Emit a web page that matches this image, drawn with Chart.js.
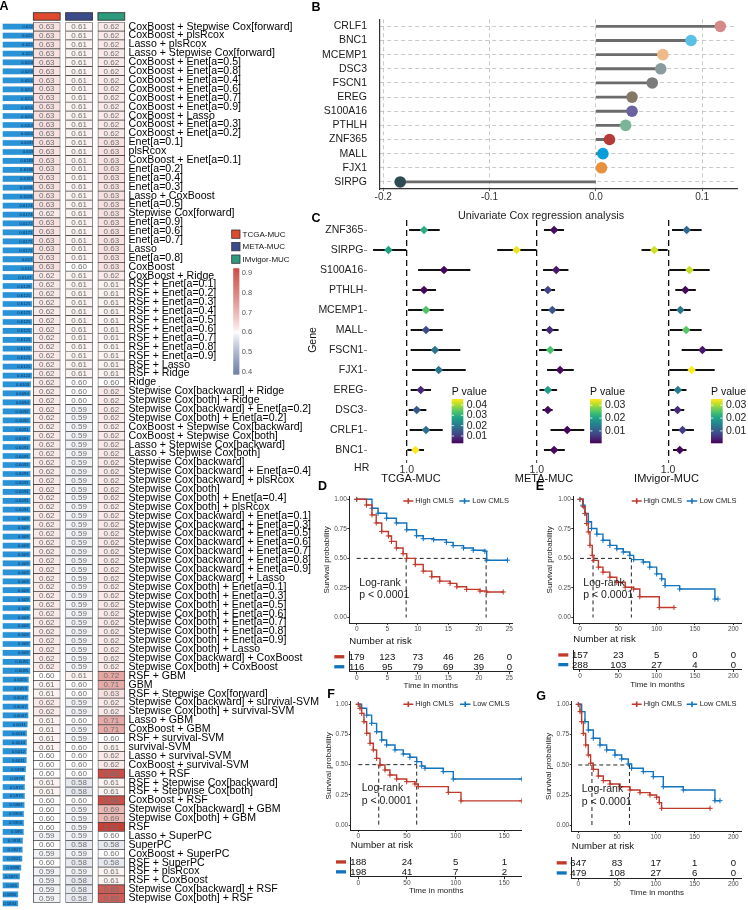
<!DOCTYPE html>
<html>
<head>
<meta charset="utf-8">
<title>Figure</title>
<script src="https://cdn.jsdelivr.net/npm/chart.js@4.4.1/dist/chart.umd.min.js"></script>
<style>
  html, body { margin:0; padding:0; background:#ffffff; }
  body { width:748px; height:910px; position:relative; overflow:hidden; }
  canvas { position:absolute; }
</style>
</head>
<body>
<script>
// ======================= DATA =======================
// ---- Panel A : models (rows), C-index per cohort, mean C-index ----
const models = [
 "CoxBoost + Stepwise Cox[forward]", "CoxBoost + plsRcox", "Lasso + plsRcox", "Lasso + Stepwise Cox[forward]",
 "CoxBoost + Enet[a=0.5]", "CoxBoost + Enet[a=0.8]", "CoxBoost + Enet[a=0.4]", "CoxBoost + Enet[a=0.6]",
 "CoxBoost + Enet[a=0.7]", "CoxBoost + Enet[a=0.9]", "CoxBoost + Lasso", "CoxBoost + Enet[a=0.3]",
 "CoxBoost + Enet[a=0.2]", "Enet[a=0.1]", "plsRcox", "CoxBoost + Enet[a=0.1]",
 "Enet[a=0.2]", "Enet[a=0.4]", "Enet[a=0.3]", "Lasso + CoxBoost",
 "Enet[a=0.5]", "Stepwise Cox[forward]", "Enet[a=0.9]", "Enet[a=0.6]",
 "Enet[a=0.7]", "Lasso", "Enet[a=0.8]", "CoxBoost",
 "CoxBoost + Ridge", "RSF + Enet[a=0.1]", "RSF + Enet[a=0.2]", "RSF + Enet[a=0.3]",
 "RSF + Enet[a=0.4]", "RSF + Enet[a=0.5]", "RSF + Enet[a=0.6]", "RSF + Enet[a=0.7]",
 "RSF + Enet[a=0.8]", "RSF + Enet[a=0.9]", "RSF + Lasso", "RSF + Ridge",
 "Ridge", "Stepwise Cox[backward] + Ridge", "Stepwise Cox[both] + Ridge", "Stepwise Cox[backward] + Enet[a=0.2]",
 "Stepwise Cox[both] + Enet[a=0.2]", "CoxBoost + Stepwise Cox[backward]", "CoxBoost + Stepwise Cox[both]", "Lasso + Stepwise Cox[backward]",
 "Lasso + Stepwise Cox[both]", "Stepwise Cox[backward]", "Stepwise Cox[backward] + Enet[a=0.4]", "Stepwise Cox[backward] + plsRcox",
 "Stepwise Cox[both]", "Stepwise Cox[both] + Enet[a=0.4]", "Stepwise Cox[both] + plsRcox", "Stepwise Cox[backward] + Enet[a=0.1]",
 "Stepwise Cox[backward] + Enet[a=0.3]", "Stepwise Cox[backward] + Enet[a=0.5]", "Stepwise Cox[backward] + Enet[a=0.6]", "Stepwise Cox[backward] + Enet[a=0.7]",
 "Stepwise Cox[backward] + Enet[a=0.8]", "Stepwise Cox[backward] + Enet[a=0.9]", "Stepwise Cox[backward] + Lasso", "Stepwise Cox[both] + Enet[a=0.1]",
 "Stepwise Cox[both] + Enet[a=0.3]", "Stepwise Cox[both] + Enet[a=0.5]", "Stepwise Cox[both] + Enet[a=0.6]", "Stepwise Cox[both] + Enet[a=0.7]",
 "Stepwise Cox[both] + Enet[a=0.8]", "Stepwise Cox[both] + Enet[a=0.9]", "Stepwise Cox[both] + Lasso", "Stepwise Cox[backward] + CoxBoost",
 "Stepwise Cox[both] + CoxBoost", "RSF + GBM", "GBM", "RSF + Stepwise Cox[forward]",
 "Stepwise Cox[backward] + survival-SVM", "Stepwise Cox[both] + survival-SVM", "Lasso + GBM", "CoxBoost + GBM",
 "RSF + survival-SVM", "survival-SVM", "Lasso + survival-SVM", "CoxBoost + survival-SVM",
 "Lasso + RSF", "RSF + Stepwise Cox[backward]", "RSF + Stepwise Cox[both]", "CoxBoost + RSF",
 "Stepwise Cox[backward] + GBM", "Stepwise Cox[both] + GBM", "RSF", "Lasso + SuperPC",
 "SuperPC", "CoxBoost + SuperPC", "RSF + SuperPC", "RSF + plsRcox",
 "RSF + CoxBoost", "Stepwise Cox[backward] + RSF", "Stepwise Cox[both] + RSF"
];
const cohorts = ["TCGA-MUC", "META-MUC", "IMvigor-MUC"];
const cindexTCGA = [
 0.63,0.63,0.63,0.63,0.63,0.63,0.63,0.63,0.63,0.63,
 0.63,0.63,0.63,0.63,0.63,0.63,0.63,0.63,0.63,0.63,
 0.63,0.62,0.63,0.63,0.63,0.63,0.63,0.63,0.62,0.62,
 0.62,0.62,0.62,0.62,0.62,0.62,0.62,0.62,0.62,0.62,
 0.62,0.62,0.62,0.62,0.62,0.62,0.62,0.62,0.62,0.62,
 0.62,0.62,0.62,0.62,0.62,0.62,0.62,0.62,0.62,0.62,
 0.62,0.62,0.62,0.62,0.62,0.62,0.62,0.62,0.62,0.62,
 0.62,0.62,0.62,0.60,0.61,0.61,0.62,0.62,0.61,0.61,
 0.61,0.61,0.60,0.60,0.60,0.61,0.61,0.60,0.60,0.60,
 0.60,0.59,0.60,0.59,0.60,0.59,0.59,0.59,0.59
];
const cindexMETA = [
 0.61,0.61,0.61,0.61,0.61,0.61,0.61,0.61,0.61,0.61,
 0.61,0.61,0.61,0.61,0.61,0.61,0.61,0.61,0.61,0.61,
 0.61,0.61,0.61,0.61,0.61,0.61,0.61,0.60,0.61,0.61,
 0.61,0.61,0.61,0.61,0.61,0.61,0.61,0.61,0.61,0.61,
 0.60,0.60,0.60,0.59,0.59,0.59,0.59,0.59,0.59,0.59,
 0.59,0.59,0.59,0.59,0.59,0.59,0.59,0.59,0.59,0.59,
 0.59,0.59,0.59,0.59,0.59,0.59,0.59,0.59,0.59,0.59,
 0.59,0.59,0.59,0.61,0.60,0.60,0.59,0.59,0.60,0.59,
 0.59,0.60,0.60,0.60,0.60,0.58,0.58,0.60,0.59,0.59,
 0.59,0.59,0.58,0.59,0.58,0.59,0.58,0.58,0.58
];
const cindexIMV = [
 0.62,0.62,0.62,0.62,0.62,0.62,0.62,0.62,0.62,0.62,
 0.62,0.62,0.62,0.63,0.63,0.63,0.63,0.63,0.63,0.63,
 0.63,0.63,0.63,0.63,0.63,0.63,0.63,0.63,0.62,0.61,
 0.61,0.61,0.61,0.61,0.61,0.61,0.61,0.61,0.61,0.61,
 0.60,0.62,0.62,0.62,0.62,0.62,0.62,0.62,0.62,0.62,
 0.62,0.62,0.62,0.62,0.62,0.62,0.62,0.62,0.62,0.62,
 0.62,0.62,0.62,0.62,0.62,0.62,0.62,0.62,0.62,0.62,
 0.62,0.62,0.62,0.72,0.71,0.63,0.62,0.62,0.71,0.71,
 0.60,0.61,0.62,0.62,0.88,0.61,0.61,0.88,0.69,0.69,
 0.91,0.60,0.58,0.60,0.58,0.61,0.61,0.85,0.85
];
const meanCindex = [
 0.6229,0.6225,0.6222,0.6222,0.6208,0.6208,0.6207,0.6207,0.6207,0.6207,
 0.6207,0.6205,0.6202,0.6199,0.619,0.6189,0.6186,0.6183,0.6181,0.6181,
 0.6174,0.6174,0.6172,0.6171,0.6171,0.6171,0.617,0.616,0.6147,0.6129,
 0.6125,0.6125,0.6125,0.6125,0.6125,0.6125,0.6125,0.6125,0.6125,0.6124,
 0.6103,0.6094,0.6094,0.6092,0.6092,0.6091,0.6091,0.6091,0.6091,0.6091,
 0.6091,0.6091,0.6091,0.6091,0.6091,0.609,0.609,0.609,0.609,0.609,
 0.609,0.609,0.609,0.609,0.609,0.609,0.609,0.609,0.609,0.609,
 0.609,0.6085,0.6085,0.6055,0.6053,0.6047,0.6047,0.6047,0.6031,0.6016,
 0.6014,0.6012,0.6011,0.5998,0.5979,0.5972,0.5972,0.5967,0.5955,0.5955,
 0.595,0.5931,0.5927,0.5921,0.5898,0.5871,0.585,0.5835,0.5834
];
const heatTicks = [0.9, 0.8, 0.7, 0.6, 0.5, 0.4];

// ---- Panel B : univariate Cox coefficients ----
const genesB = ["CRLF1","BNC1","MCEMP1","DSC3","FSCN1","EREG","S100A16","PTHLH","ZNF365","MALL","FJX1","SIRPG"];
const coefB  = [0.117, 0.0895, 0.063, 0.061, 0.053, 0.034, 0.034, 0.028, 0.0128, 0.0066, 0.0053, -0.184];
const ticksB = [-0.2, -0.1, 0.0, 0.1];

// ---- Panel C : forest plots ----
const genesC = ["ZNF365","SIRPG","S100A16","PTHLH","MCEMP1","MALL","FSCN1","FJX1","EREG","DSC3","CRLF1","BNC1"];
const hrTCGA = [1.173, 0.817, 1.373, 1.173, 1.193, 1.193, 1.283, 1.320, 1.140, 1.100, 1.193, 1.087];
const loTCGA = [1.027, 0.667, 1.117, 1.060, 1.017, 1.043, 1.043, 1.057, 1.043, 1.023, 1.033, 1.010];
const hiTCGA = [1.327, 0.993, 1.633, 1.290, 1.367, 1.357, 1.533, 1.587, 1.240, 1.193, 1.357, 1.170];
const pTCGA  = [0.030, 0.028, 0.004, 0.004, 0.034, 0.013, 0.020, 0.020, 0.008, 0.015, 0.019, 0.0458];
const hrMETA = [1.193, 0.773, 1.217, 1.123, 1.173, 1.143, 1.150, 1.260, 1.123, 1.123, 1.340, 1.193];
const loMETA = [1.083, 0.560, 1.073, 1.050, 1.053, 1.060, 1.027, 1.117, 1.033, 1.067, 1.157, 1.083];
const hiMETA = [1.300, 0.993, 1.350, 1.200, 1.303, 1.240, 1.280, 1.410, 1.223, 1.173, 1.527, 1.310];
const pMETA  = [0.002, 0.034, 0.003, 0.0076, 0.010, 0.005, 0.025, 0.0015, 0.0196, 0.0015, 0.0012, 0.0015];
const hrIMV  = [1.223, 0.833, 1.257, 1.207, 1.147, 1.217, 1.413, 1.283, 1.117, 1.113, 1.173, 1.140];
const loIMV  = [1.050, 0.683, 1.017, 1.090, 1.023, 1.023, 1.167, 1.017, 1.017, 1.033, 1.050, 1.063];
const hiIMV  = [1.400, 0.990, 1.497, 1.330, 1.267, 1.400, 1.650, 1.557, 1.217, 1.190, 1.307, 1.217];
const pIMV   = [0.0127, 0.0325, 0.032, 0.0015, 0.0145, 0.026, 0.003, 0.0349, 0.0151, 0.0049, 0.007, 0.0015];
const pTicksTCGA = [0.01, 0.02, 0.03, 0.04];
const pTicksOther = [0.01, 0.02, 0.03];

// ---- Panels D-G : Kaplan-Meier (time in months, survival) ----
const dHighT = [0, 1.6, 2.5, 3.2, 4.1, 5.2, 5.7, 6.5, 7.6, 8.2, 9.6, 10.9, 12.3, 13.6, 15.3, 16.4, 18.0, 20.2, 21.3, 24.0];
const dHighS = [1, 0.952, 0.868, 0.80, 0.728, 0.69, 0.644, 0.588, 0.54, 0.50, 0.448, 0.392, 0.345, 0.308, 0.289, 0.26, 0.238, 0.224, 0.216, 0.216];
const dLowT  = [0, 2.5, 3.5, 4.9, 6.5, 8.2, 9.8, 10.9, 12.6, 14.7, 15.8, 17.5, 19.1, 21.0, 21.3, 24.7];
const dLowS  = [1, 0.924, 0.882, 0.84, 0.80, 0.742, 0.692, 0.667, 0.658, 0.636, 0.608, 0.588, 0.569, 0.56, 0.485, 0.485];
const dMedian = [8.1, 21.2];
const dTicks = [0, 5, 10, 15, 20, 25];
const dRiskHigh = [179, 123, 73, 46, 26, 0];
const dRiskLow  = [116, 95, 79, 69, 39, 0];

const eHighT = [0, 4.3, 6.5, 8.7, 10.9, 13, 16, 18, 24, 30, 39, 48, 59, 70, 78, 103.5, 122.6];
const eHighS = [1, 0.9375, 0.88, 0.795, 0.724, 0.61, 0.526, 0.483, 0.426, 0.384, 0.341, 0.298, 0.256, 0.241, 0.176, 0.085, 0.085];
const eLowT  = [0, 3.5, 6.5, 10.9, 15, 22, 30, 39, 48, 56.5, 65, 70, 82.6, 91, 100, 106.5, 111, 130, 176, 180];
const eLowS  = [1, 0.95, 0.88, 0.81, 0.753, 0.705, 0.653, 0.61, 0.582, 0.554, 0.526, 0.49, 0.469, 0.426, 0.369, 0.327, 0.27, 0.241, 0.156, 0.156];
const eMedian = [17, 67];
const eTicks = [0, 50, 100, 150, 200];
const eRiskHigh = [157, 23, 5, 0, 0];
const eRiskLow  = [288, 103, 27, 4, 0];

const fHighT = [0, 1.7, 3.4, 5.8, 8.6, 12, 15.4, 18.8, 22.3, 27.4, 32.5, 39.4, 49.7, 58.2, 61.6, 92.5, 105.5, 167.8];
const fHighS = [1, 0.967, 0.925, 0.856, 0.76, 0.677, 0.622, 0.552, 0.497, 0.456, 0.414, 0.381, 0.359, 0.34, 0.318, 0.27, 0.2, 0.2];
const fLowT  = [0, 3.4, 8.6, 13.7, 18.8, 24, 29.1, 37.7, 46.2, 53, 60, 65, 68.5, 87.3, 97.6, 167.8];
const fLowS  = [1, 0.967, 0.91, 0.842, 0.773, 0.704, 0.663, 0.622, 0.588, 0.561, 0.525, 0.489, 0.47, 0.442, 0.381, 0.381];
const fMedian = [21, 60];
const fTicks = [0, 50, 100, 150];
const fRiskHigh = [188, 24, 5, 1];
const fRiskLow  = [198, 41, 7, 2];

const gHighT = [0, 2.2, 4.3, 6.5, 9.5, 12.9, 15.9, 19.4, 25.8, 32.3, 40.9, 53.8, 66.7, 79.6, 92.5, 101, 104.5, 107.5, 170];
const gHighS = [1, 0.94, 0.857, 0.76, 0.665, 0.582, 0.514, 0.464, 0.409, 0.371, 0.343, 0.321, 0.294, 0.272, 0.253, 0.234, 0.19, 0.143, 0.143];
const gLowT  = [0, 4.3, 8.6, 12.9, 19.4, 28, 36.6, 47.3, 55.9, 64.5, 68.8, 83.9, 96.8, 109.7, 135.5, 176.3, 182.8];
const gLowS  = [1, 0.94, 0.857, 0.788, 0.72, 0.665, 0.624, 0.582, 0.55, 0.508, 0.473, 0.445, 0.404, 0.321, 0.294, 0.206, 0.206];
const gMedian = [17.6, 66];
const gTicks = [0, 50, 100, 150, 200];
const gRiskHigh = [647, 83, 17, 1, 0];
const gRiskLow  = [479, 108, 27, 6, 0];

const survTicks = [0, 0.25, 0.5, 0.75, 1];
const groups = ["High CMLS", "Low CMLS"];

// ======================= STYLE =======================
const FONT = '"Liberation Sans", Arial, Helvetica, sans-serif';
const fnt = (size, weight) => (weight ? weight + ' ' : '') + size + 'px ' + FONT;
const cohortColors = ["#DF4A2E", "#3C4C8A", "#2E9B7F"];
const colorsB = ["#D48A8A","#5BC0E8","#F0B98A","#8A9B9F","#7C7C7C","#847866","#6B63A0","#79B596","#B53A3A","#009FDA","#E8913C","#2E4A52"];
const RED = "#C0392B", BLUE = "#1273BE";

Chart.defaults.font.family = FONT;
Chart.defaults.color = '#333';
Chart.defaults.animation = false;
Chart.defaults.responsive = false;
Chart.defaults.maintainAspectRatio = false;
Chart.defaults.plugins.legend.display = false;
Chart.defaults.plugins.tooltip.enabled = false;
Chart.defaults.events = [];

function hexToRgb(h){ h=h.replace('#',''); return [parseInt(h.substr(0,2),16),parseInt(h.substr(2,2),16),parseInt(h.substr(4,2),16)]; }
function mix(a,b,t){ return 'rgb(' + Math.round(a[0]+(b[0]-a[0])*t) + ',' + Math.round(a[1]+(b[1]-a[1])*t) + ',' + Math.round(a[2]+(b[2]-a[2])*t) + ')'; }
const HOT=[197,58,50], COLD=[100,116,160], WHITE=[255,255,255];
function heatColor(v){
  if (v >= 0.6) { const t = Math.pow(Math.min(1,(v-0.6)/0.32), 0.8); return mix(WHITE, HOT, t); }
  const t = Math.pow(Math.min(1,(0.6-v)/0.2), 0.8); return mix(WHITE, COLD, t);
}
const VIR = ['#440154','#482475','#414487','#355F8D','#2A788E','#21918C','#22A884','#44BF70','#7AD151','#BDDF26','#FDE725'].map(hexToRgb);
function viridis(t){ t=Math.max(0,Math.min(1,t)); const f=t*10; const i=Math.min(9,Math.floor(f)); return mix(VIR[i],VIR[i+1],f-i); }

// ======================= HELPERS =======================
function makeCanvas(left, top, w, h){
  const c = document.createElement('canvas');
  c.width = w; c.height = h;
  c.style.left = left + 'px'; c.style.top = top + 'px';
  c.style.width = w + 'px'; c.style.height = h + 'px';
  document.body.appendChild(c);
  c._off = {left, top};
  c._annot = [];
  return c;
}
const fixW = w => s => { s.width = w; };
const fixH = h => s => { s.height = h; };
const setTicks = vals => s => { s.ticks = vals.map(v => ({value: v})); };

const annotPlugin = {
  id: 'annot',
  afterDraw(chart) {
    const c = chart.canvas, items = c._annot || [], off = c._off, ctx = chart.ctx;
    items.forEach(it => {
      ctx.save();
      const x = it.x - off.left, y = it.y - off.top;
      if (it.kind === 'rect') {
        ctx.fillStyle = it.fill; ctx.fillRect(x, y, it.w, it.h);
        if (it.stroke) { ctx.strokeStyle = it.stroke; ctx.lineWidth = 0.8; ctx.strokeRect(x, y, it.w, it.h); }
      } else if (it.kind === 'key') {
        ctx.strokeStyle = it.color; ctx.lineWidth = 1.6;
        ctx.beginPath(); ctx.moveTo(x, y); ctx.lineTo(x + it.w, y);
        ctx.moveTo(x + it.w/2, y - 2.8); ctx.lineTo(x + it.w/2, y + 2.8); ctx.stroke();
      } else {
        ctx.font = it.font; ctx.fillStyle = it.color || '#000';
        ctx.textAlign = it.align || 'left'; ctx.textBaseline = 'middle';
        ctx.fillText(it.text, x, y);
      }
      ctx.restore();
    });
  }
};
const valueTextPlugin = {
  id: 'valtext',
  afterDatasetsDraw(chart) {
    const ctx = chart.ctx;
    chart.data.datasets.forEach((ds, i) => {
      if (!ds.txt) return;
      const meta = chart.getDatasetMeta(i);
      meta.data.forEach((el, k) => {
        const s = ds.txt[k];
        if (s === undefined || s === null) return;
        ctx.save();
        ctx.font = ds.txtFont; ctx.fillStyle = ds.txtColor; ctx.textBaseline = 'middle';
        let x = el.x;
        if (ds.txtMode === 'cell') { x = (el.x + el.base) / 2; ctx.textAlign = 'center'; }
        else if (ds.txtMode === 'end') { x = el.x - 2; ctx.textAlign = 'right'; }
        else { ctx.textAlign = 'center'; }
        ctx.fillText(String(s), x, el.y + 0.3);
        ctx.restore();
      });
    });
  }
};
const pLegendPlugin = {
  id: 'pleg',
  afterDraw(chart) {
    const o = chart.canvas._pleg; if (!o) return;
    const off = chart.canvas._off, ctx = chart.ctx;
    const x = o.x - off.left, top = o.top - off.top, bot = o.bottom - off.top;
    ctx.save();
    for (let y = top; y < bot; y += 1) {
      const p = o.pmax - (y - top) / (bot - top) * (o.pmax - o.pmin);
      ctx.fillStyle = viridis((p - o.pmin) / (o.pmax - o.pmin));
      ctx.fillRect(x, y, o.w, 1.3);
    }
    ctx.font = fnt(10.5); ctx.textAlign = 'left'; ctx.textBaseline = 'middle';
    o.ticks.forEach(p => {
      const y = top + (o.pmax - p) / (o.pmax - o.pmin) * (bot - top);
      ctx.strokeStyle = '#fff'; ctx.lineWidth = 0.8;
      ctx.beginPath(); ctx.moveTo(x, y); ctx.lineTo(x + 2.4, y); ctx.moveTo(x + o.w - 2.4, y); ctx.lineTo(x + o.w, y); ctx.stroke();
      ctx.fillStyle = '#222';
      ctx.fillText(p.toFixed(2), x + o.w + 3.4, y);
    });
    ctx.fillStyle = '#111';
    ctx.fillText('P value', x, top - 7);
    ctx.restore();
  }
};
Chart.register(annotPlugin, valueTextPlugin, pLegendPlugin);

// ======================= PANEL A : mean C-index bars =======================
const cBar = makeCanvas(0, 0, 40, 910);
cBar._annot = [{text:'A', x:4, y:6.5, font:fnt(12.5,'bold'), color:'#000', align:'center'}];
new Chart(cBar, {
  type: 'bar',
  data: { labels: models, datasets: [{
    data: meanCindex, backgroundColor: '#2A93D8', borderColor: '#1C6FAE', borderWidth: 0.4,
    barPercentage: 0.7, categoryPercentage: 1,
    txt: meanCindex, txtFont: fnt(4.3), txtColor: '#0B2B55', txtMode: 'end'
  }]},
  options: {
    indexAxis: 'y',
    layout: { padding: { left: 2.7, right: 2.7, top: 22.2, bottom: 2.2 } },
    scales: {
      x: { display: false, type: 'linear', min: 0.551, max: 0.6229 },
      y: { display: false }
    }
  }
});

// ======================= PANEL A : heatmap =======================
const cHeat = makeCanvas(30, 0, 330, 910);
const cellInset = 0.085;
const heatDecor = {
  id: 'heatDecor',
  afterDraw(chart) {
    const ctx = chart.ctx, xs = chart.scales.x, ox = chart.canvas._off.left;
    ctx.save();
    cohorts.forEach((c, j) => {
      const x1 = xs.getPixelForValue(j + cellInset), x2 = xs.getPixelForValue(j + 1 - cellInset);
      ctx.fillStyle = cohortColors[j]; ctx.fillRect(x1, 12.7, x2 - x1, 7.5);
      ctx.strokeStyle = '#333'; ctx.lineWidth = 0.9; ctx.strokeRect(x1, 12.7, x2 - x1, 7.5);
    });
    // legend
    ctx.font = fnt(8); ctx.textBaseline = 'middle'; ctx.textAlign = 'left';
    cohorts.forEach((c, j) => {
      const y = 230 + j * 12.5;
      ctx.fillStyle = cohortColors[j]; ctx.fillRect(231.7 - ox, y, 8.3, 8.3);
      ctx.strokeStyle = '#333'; ctx.lineWidth = 0.8; ctx.strokeRect(231.7 - ox, y, 8.3, 8.3);
      ctx.fillStyle = '#111'; ctx.fillText(c, 242.5 - ox, y + 4.3);
    });
    // colour bar
    const top = 268.3, bottom = 374, vTop = 0.925, vBot = 0.388;
    for (let y = top; y < bottom; y += 1) {
      const v = vTop - (y - top) / (bottom - top) * (vTop - vBot);
      ctx.fillStyle = heatColor(v); ctx.fillRect(233.3 - ox, y, 6, 1.3);
    }
    ctx.font = fnt(7.5); ctx.fillStyle = '#555';
    heatTicks.forEach(t => {
      const y = top + (vTop - t) / (vTop - vBot) * (bottom - top);
      ctx.fillText(t.toFixed(1), 241.7 - ox, y);
    });
    ctx.restore();
  }
};
new Chart(cHeat, {
  type: 'bar',
  data: {
    labels: models,
    datasets: [cindexTCGA, cindexMETA, cindexIMV].map((vals, j) => ({
      label: cohorts[j],
      data: vals.map(() => [j + cellInset, j + 1 - cellInset]),
      backgroundColor: vals.map(heatColor),
      borderColor: '#3A3A3A', borderWidth: 0.7, borderSkipped: false,
      grouped: false, barPercentage: 1, categoryPercentage: 1,
      txt: vals.map(v => v.toFixed(2)), txtFont: fnt(8), txtColor: '#707070', txtMode: 'cell'
    }))
  },
  options: {
    indexAxis: 'y',
    layout: { padding: { left: 0.6, right: 0, top: 22.2, bottom: 2.2 } },
    scales: {
      x: { display: false, type: 'linear', min: 0, max: 3 },
      y: { position: 'right', grid: { display: false, drawTicks: false }, border: { display: false },
           ticks: { autoSkip: false, font: { size: 10.6 }, color: '#000', padding: 1 },
           afterFit: fixW(232.5) }
    }
  },
  plugins: [heatDecor]
});

// ======================= PANEL B : lollipop =======================
const cB = makeCanvas(295, 0, 453, 225);
cB._annot = [
  {text:'B', x:316, y:7.5, font:fnt(12.5,'bold'), color:'#000', align:'center'},
  {text:'Univariate Cox regression analysis', x:541, y:216, font:fnt(10.8), color:'#222', align:'center'}
];
new Chart(cB, {
  type: 'bar',
  data: { labels: genesB, datasets: [
    { type: 'bar', data: coefB, backgroundColor: '#6B6B6B', barThickness: 2.2, order: 2 },
    { type: 'line', indexAxis: 'y', data: coefB, showLine: false, pointRadius: 5.8, pointHoverRadius: 5.8,
      pointBackgroundColor: colorsB, pointBorderColor: colorsB, pointBorderWidth: 0, order: 1 }
  ]},
  options: {
    indexAxis: 'y',
    layout: { padding: { left: 0, right: 11, top: 14.4, bottom: 0 } },
    scales: {
      x: { type: 'linear', min: -0.203, max: 0.1327, afterBuildTicks: setTicks(ticksB),
           ticks: { callback: v => v.toFixed(1), font: { size: 10 }, color: '#333', padding: 0 },
           grid: { color: '#BDBDBD', lineWidth: 0.8, tickLength: 2, tickColor: '#333' },
           border: { display: true, color: '#333', width: 1.2, dash: [4, 3] },
           afterFit: fixH(36) },
      y: { grid: { color: '#BDBDBD', lineWidth: 0.8, offset: false, drawTicks: false },
           border: { display: true, color: '#333', width: 1.2, dash: [4, 3] },
           ticks: { autoSkip: false, font: { size: 10.5 }, color: '#1A1A1A', padding: 13 },
           afterFit: fixW(85) }
    }
  }
});

// ======================= PANEL C : forest plots =======================
function forestChart(canvas, cfg) {
  const off = canvas._off, W = canvas.width, H = canvas.height;
  const a = cfg.area;
  const span = cfg.pmax - cfg.pmin;
  return new Chart(canvas, {
    type: 'bar',
    data: { labels: genesC, datasets: [
      { type: 'bar', data: cfg.lo.map((l, i) => [l, cfg.hi[i]]), backgroundColor: '#111', barThickness: 1.3, clip: false, order: 2 },
      { type: 'line', indexAxis: 'y', data: cfg.hr, showLine: false, pointStyle: 'rectRot', pointRadius: 4.3,
        pointBackgroundColor: cfg.p.map(v => viridis((v - cfg.pmin) / span)), pointBorderWidth: 0, clip: false, order: 1 }
    ]},
    options: {
      indexAxis: 'y',
      layout: { padding: { left: cfg.showY ? 0 : a.l - off.left, right: off.left + W - a.r, top: a.t - off.top, bottom: 0 } },
      scales: {
        x: { type: 'linear', min: cfg.min, max: cfg.max, afterBuildTicks: setTicks([1]),
             ticks: { callback: v => v.toFixed(1), font: { size: 10.5 }, color: '#333', padding: 0.5 },
             grid: { color: '#111', lineWidth: 1.3, tickLength: 3, tickColor: '#333', tickWidth: 1 },
             border: { display: false, dash: [6, 4] },
             title: { display: true, text: cfg.title, font: { size: 11 }, color: '#111', padding: { top: 0, bottom: 0 } },
             afterFit: fixH(off.top + H - a.b) },
        y: { display: cfg.showY, grid: { drawOnChartArea: false, offset: false, tickLength: 3, tickColor: '#888' },
             border: { display: false },
             ticks: { autoSkip: false, font: { size: 10.5 }, color: '#222', padding: 0.7 },
             title: { display: true, text: 'Gene', font: { size: 10.5 }, color: '#111', padding: { top: 7, bottom: 0 } },
             afterFit: fixW(a.l - off.left) }
      }
    }
  });
}
const cC1 = makeCanvas(300, 210, 190, 276);
cC1._annot = [
  {text:'C', x:316, y:218.5, font:fnt(12.5,'bold'), color:'#000', align:'center'},
  {text:'HR', x:361.7, y:468.3, font:fnt(10.5), color:'#222', align:'center'}
];
cC1._pleg = { x: 451.7, top: 399, bottom: 442.7, w: 11.6, pmin: 0.0035, pmax: 0.0458, ticks: pTicksTCGA };
forestChart(cC1, { area: {l:367, t:220, r:455, b:460}, min: 0.603, max: 1.483, hr: hrTCGA, lo: loTCGA, hi: hiTCGA, p: pTCGA,
  pmin: 0.0035, pmax: 0.0458, showY: true, title: 'TCGA-MUC' });

const cC2 = makeCanvas(470, 210, 160, 276);
cC2._pleg = { x: 590, top: 399, bottom: 442.7, w: 11.6, pmin: 0.0008, pmax: 0.0349, ticks: pTicksOther };
forestChart(cC2, { area: {l:482, t:220, r:594, b:460}, min: 0.52, max: 1.64, hr: hrMETA, lo: loMETA, hi: hiMETA, p: pMETA,
  pmin: 0.0008, pmax: 0.0349, showY: false, title: 'META-MUC' });

const cC3 = makeCanvas(600, 210, 148, 276);
cC3._pleg = { x: 711, top: 399, bottom: 442.7, w: 11.6, pmin: 0.0008, pmax: 0.0349, ticks: pTicksOther };
forestChart(cC3, { area: {l:615, t:220, r:703, b:460}, min: 0.54, max: 1.42, hr: hrIMV, lo: loIMV, hi: hiIMV, p: pIMV,
  pmin: 0.0008, pmax: 0.0349, showY: false, title: 'IMvigor-MUC' });

// ======================= PANELS D-G : KM curves + risk tables =======================
function stepDs(T, S, color, label) {
  return { label, data: T.map((t, i) => ({x: t, y: S[i]})), stepped: true, borderColor: color, borderWidth: 1.4,
    pointStyle: 'cross', pointRadius: 2.6, pointBorderColor: color, pointBorderWidth: 1, pointBackgroundColor: color, fill: false };
}
function dashDs(pts) {
  return { data: pts, borderColor: '#222', borderWidth: 1, borderDash: [4, 3], pointRadius: 0, fill: false };
}
function kmChart(canvas, cfg) {
  const off = canvas._off, W = canvas.width, H = canvas.height, a = cfg.area;
  const m = cfg.median;
  return new Chart(canvas, {
    type: 'line',
    data: { datasets: [
      stepDs(cfg.hiT, cfg.hiS, RED, groups[0]),
      stepDs(cfg.loT, cfg.loS, BLUE, groups[1]),
      dashDs([{x: 0, y: 0.5}, {x: m[1], y: 0.5}]),
      dashDs([{x: m[0], y: 0.5}, {x: m[0], y: 0}]),
      dashDs([{x: m[1], y: 0.5}, {x: m[1], y: 0}])
    ]},
    options: {
      layout: { padding: { left: 0, top: a.t - off.top, right: off.left + W - a.r, bottom: 0 } },
      scales: {
        x: { type: 'linear', min: cfg.xmin, max: cfg.xmax, afterBuildTicks: setTicks(cfg.ticks),
             ticks: { font: { size: 6.5 }, color: '#4D4D4D', padding: 0, maxRotation: 0, autoSkip: false },
             grid: { drawOnChartArea: false, tickLength: 2, tickColor: '#333' },
             border: { color: '#222', width: 1 },
             afterFit: fixH(off.top + H - a.b) },
        y: { type: 'linear', min: cfg.ymin, max: cfg.ymax, afterBuildTicks: setTicks(survTicks),
             ticks: { callback: v => v.toFixed(2), font: { size: 6.5 }, color: '#4D4D4D', padding: 0.5 },
             grid: { drawOnChartArea: false, tickLength: 2, tickColor: '#333' },
             border: { color: '#222', width: 1 },
             title: { display: true, text: 'Survival probability', font: { size: 8 }, color: '#222', padding: { top: cfg.titlePad, bottom: 0 } },
             afterFit: fixW(a.l - off.left) }
      }
    }
  });
}
function riskChart(canvas, cfg) {
  const off = canvas._off, W = canvas.width, H = canvas.height, a = cfg.area;
  return new Chart(canvas, {
    type: 'line',
    data: { datasets: [
      { data: cfg.ticks.map(t => ({x: t, y: groups[0]})), showLine: false, pointRadius: 0,
        txt: cfg.high, txtFont: fnt(9.6), txtColor: '#111' },
      { data: cfg.ticks.map(t => ({x: t, y: groups[1]})), showLine: false, pointRadius: 0,
        txt: cfg.low, txtFont: fnt(9.6), txtColor: '#111' }
    ]},
    options: {
      layout: { padding: { left: 0, top: a.t - off.top, right: off.left + W - a.r, bottom: 0 } },
      scales: {
        x: { type: 'linear', min: cfg.xmin, max: cfg.xmax, afterBuildTicks: setTicks(cfg.ticks),
             ticks: { font: { size: 6.5 }, color: '#4D4D4D', padding: 0, maxRotation: 0, autoSkip: false },
             grid: { drawOnChartArea: false, tickLength: 2.5, tickColor: '#333' },
             border: { color: '#222', width: 1 },
             title: { display: true, text: 'Time in months', font: { size: 8 }, color: '#222', padding: { top: 0, bottom: 0 } },
             afterFit: fixH(off.top + H - a.b) },
        y: { type: 'category', labels: groups, offset: true, ticks: { display: false }, grid: { display: false },
             border: { color: '#222', width: 1 }, afterFit: fixW(a.l - off.left) }
      }
    }
  });
}
function kmAnnots(p) {
  return [
    {text: p.letter, x: p.lx, y: p.ly, font: fnt(12.5, 'bold'), color: '#000', align: 'center'},
    {kind: 'key', x: p.k1, y: p.ky, w: 10, color: RED},
    {text: groups[0], x: p.k1 + 12, y: p.ky, font: fnt(7.5), color: '#222'},
    {kind: 'key', x: p.k2, y: p.ky, w: 10.5, color: BLUE},
    {text: groups[1], x: p.k2 + 13, y: p.ky, font: fnt(7.5), color: '#222'},
    {text: 'Log-rank', x: p.rx, y: p.ry, font: fnt(10.5), color: '#222'},
    {text: 'p < 0.0001', x: p.rx, y: p.ry + 12.5, font: fnt(10.5), color: '#222'}
  ];
}
function riskAnnots(p) {
  return [
    {text: 'Number at risk', x: p.nx, y: p.ny, font: fnt(9.6), color: '#111'},
    {kind: 'rect', x: p.sx, y: p.r1 - 1.6, w: 10, h: 3.3, fill: RED},
    {kind: 'rect', x: p.sx, y: p.r2 - 1.6, w: 10, h: 3.3, fill: BLUE}
  ];
}

// D
const cD = makeCanvas(316, 480, 202, 155);
cD._annot = kmAnnots({letter:'D', lx:322.5, ly:486.7, k1:403.3, k2:459.3, ky:501, rx:359.3, ry:583});
kmChart(cD, { area:{l:349.3, t:496.7, r:512.3, b:623}, xmin:-1.212, xmax:25.49, ymin:-0.0465, ymax:1.022, ticks:dTicks,
  hiT:dHighT, hiS:dHighS, loT:dLowT, loS:dLowS, median:dMedian, titlePad:5.9 });
const cDr = makeCanvas(318, 636, 200, 55);
cDr._annot = riskAnnots({nx:349.3, ny:641, sx:334.3, r1:656.7, r2:666.7});
riskChart(cDr, { area:{l:349.3, t:651.7, r:512.3, b:671.7}, xmin:-1.212, xmax:25.49, ticks:dTicks, high:dRiskHigh, low:dRiskLow });

// E
const cE = makeCanvas(535, 480, 213, 155);
cE._annot = kmAnnots({letter:'E', lx:540, ly:486.7, k1:631.7, k2:686.7, ky:501, rx:583.3, ry:582.7});
kmChart(cE, { area:{l:573.3, t:496.7, r:741.7, b:623}, xmin:-8.74, xmax:210.96, ymin:-0.0465, ymax:1.022, ticks:eTicks,
  hiT:eHighT, hiS:eHighS, loT:eLowT, loS:eLowS, median:eMedian, titlePad:10.2 });
const cEr = makeCanvas(540, 634, 208, 56);
cEr._annot = riskAnnots({nx:573.3, ny:639.3, sx:558.3, r1:654.9, r2:664.6});
riskChart(cEr, { area:{l:573.3, t:650, r:741.7, b:669.5}, xmin:-8.74, xmax:210.96, ticks:eTicks, high:eRiskHigh, low:eRiskLow });

// F
const cF = makeCanvas(316, 688, 212, 154);
cF._annot = kmAnnots({letter:'F', lx:331, ly:695, k1:403.3, k2:460, ky:704.3, rx:361.7, ry:788.3});
kmChart(cF, { area:{l:350.7, t:701.7, r:521.7, b:830}, xmin:-7.81, xmax:167.88, ymin:-0.0414, ymax:1.0215, ticks:fTicks,
  hiT:fHighT, hiS:fHighS, loT:fLowT, loS:fLowS, median:fMedian, titlePad:7.5 });
const cFr = makeCanvas(318, 840, 210, 56);
cFr._annot = riskAnnots({nx:350.7, ny:845, sx:336, r1:861.9, r2:871.8});
riskChart(cFr, { area:{l:350.7, t:857, r:521.7, b:876.7}, xmin:-7.81, xmax:167.88, ticks:fTicks, high:fRiskHigh, low:fRiskLow });

// G
const cG = makeCanvas(535, 688, 213, 155);
cG._annot = kmAnnots({letter:'G', lx:541, ly:697, k1:631.7, k2:686.7, ky:704.3, rx:581.7, ry:789.3});
kmChart(cG, { area:{l:571.7, t:701.7, r:741.7, b:831}, xmin:-8.52, xmax:210.84, ymin:-0.0437, ymax:1.0214, ticks:gTicks,
  hiT:gHighT, hiS:gHighS, loT:gLowT, loS:gLowS, median:gMedian, titlePad:8.5 });
const cGr = makeCanvas(540, 840, 208, 58);
cGr._annot = riskAnnots({nx:571.7, ny:846.7, sx:556.7, r1:862.8, r2:872.9});
riskChart(cGr, { area:{l:571.7, t:857.7, r:741.7, b:878}, xmin:-8.52, xmax:210.84, ticks:gTicks, high:gRiskHigh, low:gRiskLow });
</script>
</body>
</html>
